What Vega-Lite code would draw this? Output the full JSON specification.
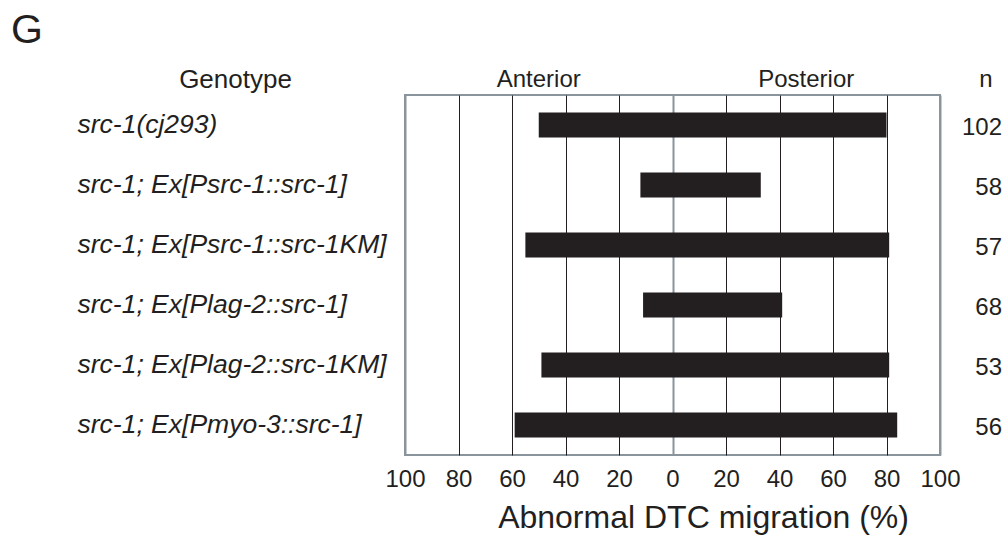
{
  "$schema": "https://vega.github.io/schema/vega-lite/v6.json",
  "autosize": {"type": "none"},
  "width": 535,
  "height": 360,
  "padding": {"left": 405, "top": 95, "right": 65, "bottom": 80},
  "background": "white",
  "config": {
    "font": "Liberation Sans",
    "view": {"stroke": "#8a949c", "strokeWidth": 2},
    "text": {"font": "Liberation Sans", "color": "#231f20"},
    "axis": {"labelFont": "Liberation Sans", "titleFont": "Liberation Sans", "labelColor": "#231f20", "titleColor": "#231f20"}
  },
  "title": {
    "text": "G",
    "anchor": "start",
    "frame": "group",
    "fontSize": 41,
    "fontWeight": "normal",
    "font": "Liberation Sans",
    "color": "#231f20",
    "baseline": "alphabetic",
    "dx": -394,
    "dy": 42,
    "offset": 24
  },
  "data": {
    "values": [
      {"genotype": "src-1(cj293)", "anterior": -50, "posterior": 80, "n": 102},
      {"genotype": "src-1; Ex[Psrc-1::src-1]", "anterior": -12, "posterior": 33, "n": 58},
      {"genotype": "src-1; Ex[Psrc-1::src-1KM]", "anterior": -55, "posterior": 81, "n": 57},
      {"genotype": "src-1; Ex[Plag-2::src-1]", "anterior": -11, "posterior": 41, "n": 68},
      {"genotype": "src-1; Ex[Plag-2::src-1KM]", "anterior": -49, "posterior": 81, "n": 53},
      {"genotype": "src-1; Ex[Pmyo-3::src-1]", "anterior": -59, "posterior": 84, "n": 56}
    ]
  },
  "encoding": {
    "y": {
      "field": "genotype",
      "type": "nominal",
      "sort": null,
      "scale": {"paddingInner": 0.58, "paddingOuter": 0.29},
      "axis": {
        "title": "Genotype",
        "titleAngle": 0,
        "titleX": -170,
        "titleY": -8,
        "titleAlign": "center",
        "titleBaseline": "alphabetic",
        "titleFontSize": 26,
        "titleFontWeight": "normal",
        "labelAlign": "left",
        "labelBaseline": "middle",
        "labelPadding": 328,
        "labelFontSize": 26.5,
        "labelFontStyle": "italic",
        "labelLimit": 0,
        "ticks": false,
        "domain": false,
        "grid": false
      }
    }
  },
  "layer": [
    {
      "mark": {"type": "bar", "color": "#231f20"},
      "encoding": {
        "x": {
          "field": "anterior",
          "type": "quantitative",
          "scale": {"domain": [-100, 100], "nice": false},
          "axis": {
            "values": [-100, -80, -60, -40, -20, 0, 20, 40, 60, 80, 100],
            "labelExpr": "'' + abs(datum.value)",
            "labelFontSize": 24,
            "labelPadding": 12,
            "labelFlush": false,
            "labelOverlap": false,
            "ticks": false,
            "domain": false,
            "grid": true,
            "gridColor": {"condition": {"test": "datum.value == 0 || abs(datum.value) == 100", "value": "#8a949c"}, "value": "#231f20"},
            "gridWidth": {"condition": {"test": "datum.value == 0 || abs(datum.value) == 100", "value": 2}, "value": 1},
            "gridOpacity": 1,
            "title": "Abnormal DTC migration (%)",
            "titleFontSize": 32,
            "titleFontWeight": "normal",
            "titleX": 298,
            "titleY": 72,
            "titleAlign": "center",
            "titleBaseline": "alphabetic"
          }
        },
        "x2": {"field": "posterior"}
      }
    },
    {
      "mark": {"type": "rule", "color": "#8a949c", "strokeWidth": 0.8},
      "encoding": {"x": {"datum": 0}}
    },
    {
      "mark": {"type": "text", "align": "right", "baseline": "middle", "dx": 62, "dy": 3, "fontSize": 24},
      "encoding": {
        "x": {"datum": 100},
        "text": {"field": "n", "type": "quantitative"}
      }
    },
    {
      "data": {"values": [{}]},
      "mark": {"type": "text", "text": "Anterior", "align": "center", "baseline": "alphabetic", "fontSize": 24},
      "encoding": {"x": {"datum": -50}, "y": {"value": -8}}
    },
    {
      "data": {"values": [{}]},
      "mark": {"type": "text", "text": "Posterior", "align": "center", "baseline": "alphabetic", "fontSize": 24},
      "encoding": {"x": {"datum": 50}, "y": {"value": -8}}
    },
    {
      "data": {"values": [{}]},
      "mark": {"type": "text", "text": "n", "align": "center", "baseline": "alphabetic", "dx": 46, "fontSize": 24},
      "encoding": {"x": {"datum": 100}, "y": {"value": -8}}
    }
  ]
}
